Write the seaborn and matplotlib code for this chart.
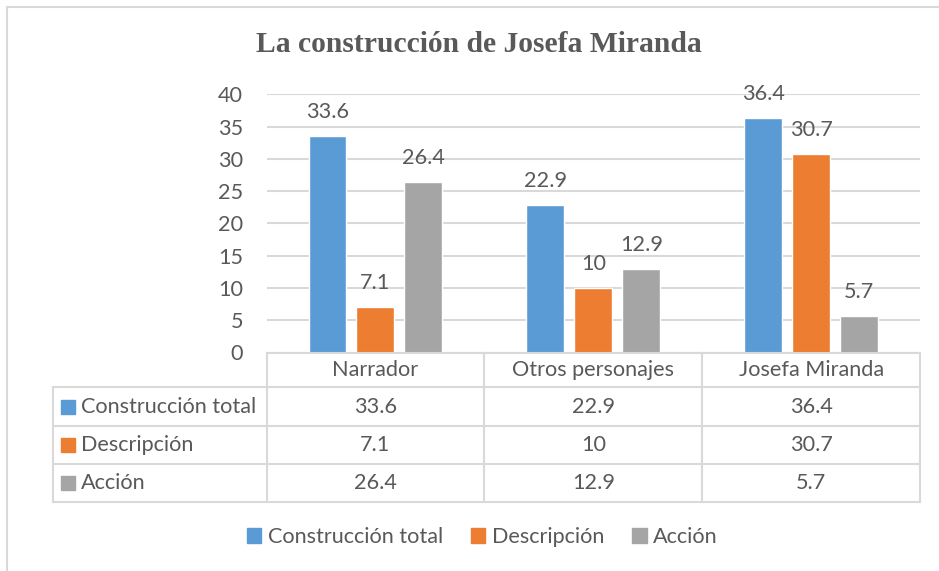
import matplotlib
matplotlib.use("Agg")
import matplotlib.pyplot as plt
import matplotlib.transforms as mtransforms
from matplotlib.patches import Patch
import seaborn as sns
import pandas as pd

# ---- data ----
categories = ["Narrador", "Otros personajes", "Josefa Miranda"]
series = ["Construcción total", "Descripción", "Acción"]
construccion_total = [33.6, 22.9, 36.4]
descripcion = [7.1, 10, 30.7]
accion = [26.4, 12.9, 5.7]
yticks = [0, 5, 10, 15, 20, 25, 30, 35, 40]
title = "La construcción de Josefa Miranda"

colors = ["#5B9BD5", "#ED7D31", "#A5A5A5"]
txt = "#595959"
grid = "#D9D9D9"

values = [construccion_total, descripcion, accion]
rows = []
for s, vals in zip(series, values):
    for c, v in zip(categories, vals):
        rows.append({"cat": c, "serie": s, "val": v})
df = pd.DataFrame(rows)

sns.set_theme(style="white")
plt.rcParams["font.family"] = ["Lato", "DejaVu Sans"]

W, H = 939, 571
fig = plt.figure(figsize=(W / 100, H / 100), dpi=100)

def fx(x):
    return x / W

def fy(y):
    return 1 - y / H

left, right, top, bottom = 266.5, 920, 94.3, 352.5
ax = fig.add_axes([fx(left), fy(bottom), (right - left) / W, (bottom - top) / H])

sns.barplot(data=df, x="cat", y="val", hue="serie", order=categories,
            hue_order=series, palette=colors, width=0.66, gap=0.21,
            saturation=1, legend=False, ax=ax)

fs = 15.6

ax.set_xlim(-0.5, 2.5)
ax.set_ylim(0, 40)
ax.set_yticks(yticks)
ax.set_yticklabels([str(t) for t in yticks])
ax.set_xticks([])
ax.set_xlabel("")
ax.set_ylabel("")
ax.yaxis.grid(True, color=grid, linewidth=1.5)
ax.set_axisbelow(True)
for sp in ["left", "right", "top", "bottom"]:
    ax.spines[sp].set_visible(False)
ax.tick_params(axis="y", length=0, pad=17, labelsize=fs, labelcolor=txt)

for cont in ax.containers:
    ax.bar_label(cont, fmt="%g", padding=10, fontsize=fs, color=txt)

# ---- title ----
fig.text(fx(479), fy(45), title, ha="center", va="center", fontsize=21.3,
         fontweight="bold", color=txt, family=["Liberation Serif"])

# ---- frame ----
fig.add_artist(plt.Line2D([fx(7.3), fx(7.3)], [fy(575), fy(7.3)],
                          transform=fig.transFigure, color=grid, lw=1.5))
fig.add_artist(plt.Line2D([fx(7.3), fx(945)], [fy(7.3), fy(7.3)],
                          transform=fig.transFigure, color=grid, lw=1.5))

# ---- data table ----
bt = mtransforms.blended_transform_factory(ax.transData, fig.transFigure)
row_y = [352.5, 387.3, 426, 464.3, 502.3]
tab_left = 53
lkw = dict(color=grid, lw=1.5, solid_capstyle="projecting")
fig.add_artist(plt.Line2D([fx(left), fx(right)], [fy(row_y[0])] * 2,
                          transform=fig.transFigure, **lkw))
for y in row_y[1:]:
    fig.add_artist(plt.Line2D([fx(tab_left), fx(right)], [fy(y)] * 2,
                              transform=fig.transFigure, **lkw))
fig.add_artist(plt.Line2D([fx(tab_left)] * 2, [fy(row_y[1]), fy(row_y[-1])],
                          transform=fig.transFigure, **lkw))
for xb in [-0.5, 0.5, 1.5, 2.5]:
    fig.add_artist(plt.Line2D([xb, xb], [fy(row_y[0]), fy(row_y[-1])],
                              transform=bt, **lkw))

for i, c in enumerate(categories):
    fig.text(i, fy((row_y[0] + row_y[1]) / 2), c, transform=bt,
             ha="center", va="center", fontsize=fs, color=txt)
for r, (s, vals, col) in enumerate(zip(series, values, colors)):
    yc = (row_y[r + 1] + row_y[r + 2]) / 2
    fig.add_artist(plt.Rectangle((fx(61), fy(yc + 7)), 14 / W, 14 / H,
                                 transform=fig.transFigure, color=col))
    fig.text(fx(81), fy(yc), s, ha="left", va="center", fontsize=fs, color=txt)
    for i, v in enumerate(vals):
        fig.text(i, fy(yc), f"{v:g}", transform=bt, ha="center", va="center",
                 fontsize=fs, color=txt)

# ---- legend ----
handles = [Patch(facecolor=c, edgecolor=c) for c in colors]
fig.legend(handles, series, loc="center", bbox_to_anchor=(fx(482.5), fy(537)),
           ncol=3, frameon=False, fontsize=fs, labelcolor=txt,
           handlelength=0.65, handleheight=0.65, handletextpad=0.3,
           columnspacing=1.3)

fig.savefig("out.png", dpi=100)
